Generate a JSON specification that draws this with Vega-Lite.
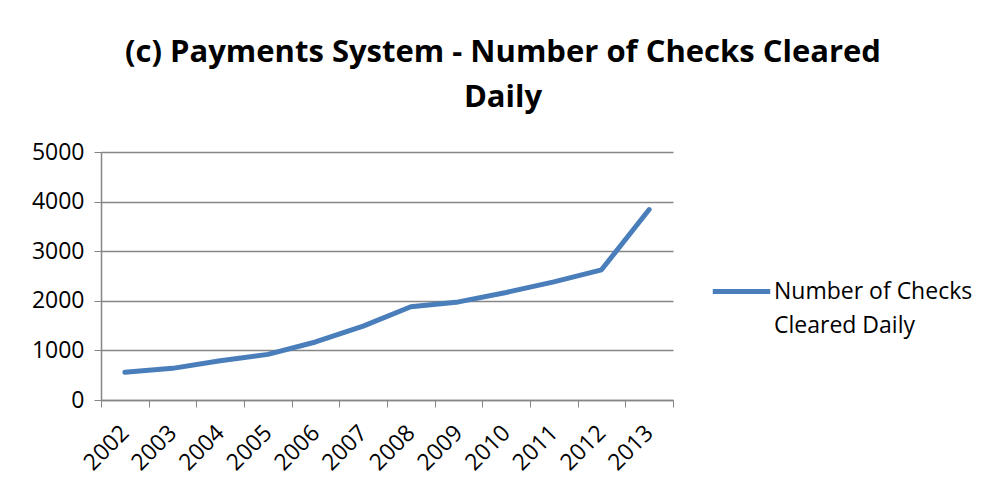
{
  "$schema": "https://vega.github.io/schema/vega-lite/v6.json",
  "width": 572,
  "height": 248,
  "autosize": {"type": "none"},
  "padding": {"left": 101, "top": 152, "right": 314, "bottom": 93},
  "background": "white",
  "title": {
    "text": ["(c) Payments System - Number of Checks Cleared", "Daily"],
    "font": "Open Sans",
    "fontSize": 31,
    "fontWeight": "bold",
    "color": "black",
    "anchor": "middle",
    "frame": "group",
    "dx": 116,
    "offset": 27,
    "lineHeight": 45
  },
  "data": {
    "values": [
      {"year": "2002", "value": 560, "series": "Number of Checks Cleared Daily"},
      {"year": "2003", "value": 638, "series": "Number of Checks Cleared Daily"},
      {"year": "2004", "value": 790, "series": "Number of Checks Cleared Daily"},
      {"year": "2005", "value": 920, "series": "Number of Checks Cleared Daily"},
      {"year": "2006", "value": 1170, "series": "Number of Checks Cleared Daily"},
      {"year": "2007", "value": 1490, "series": "Number of Checks Cleared Daily"},
      {"year": "2008", "value": 1880, "series": "Number of Checks Cleared Daily"},
      {"year": "2009", "value": 1978, "series": "Number of Checks Cleared Daily"},
      {"year": "2010", "value": 2168, "series": "Number of Checks Cleared Daily"},
      {"year": "2011", "value": 2382, "series": "Number of Checks Cleared Daily"},
      {"year": "2012", "value": 2625, "series": "Number of Checks Cleared Daily"},
      {"year": "2013", "value": 3840, "series": "Number of Checks Cleared Daily"}
    ]
  },
  "mark": {"type": "line", "strokeWidth": 5, "strokeCap": "round", "strokeJoin": "round"},
  "encoding": {
    "x": {
      "field": "year",
      "type": "ordinal",
      "bandPosition": 0.5,
      "scale": {"type": "band", "paddingInner": 0, "paddingOuter": 0},
      "axis": {
        "title": null,
        "labelAngle": -45,
        "labelAlign": "right",
        "labelBaseline": "middle",
        "labelFont": "Open Sans",
        "labelFontSize": 23,
        "labelColor": "black",
        "labelPadding": 22,
        "labelDx": 5,
        "tickBand": "extent",
        "tickColor": "#868686",
        "tickSize": 7,
        "domainColor": "#868686",
        "domainWidth": 1.5,
        "grid": false
      }
    },
    "y": {
      "field": "value",
      "type": "quantitative",
      "scale": {"domain": [0, 5000]},
      "axis": {
        "title": null,
        "values": [0, 1000, 2000, 3000, 4000, 5000],
        "format": "d",
        "labelFont": "Open Sans",
        "labelFontSize": 23,
        "labelColor": "black",
        "labelPadding": 10,
        "tickColor": "#868686",
        "tickSize": 7,
        "domainColor": "#868686",
        "domainWidth": 1.5,
        "gridColor": "#868686",
        "gridWidth": 1.5
      }
    },
    "color": {
      "field": "series",
      "type": "nominal",
      "scale": {"range": ["#4a7ebb"]},
      "legend": {
        "title": null,
        "orient": "none",
        "legendX": 609,
        "legendY": 108,
        "symbolType": "stroke",
        "symbolSize": 3300,
        "symbolStrokeWidth": 5,
        "labelFont": "Open Sans",
        "labelFontSize": 23,
        "labelColor": "black",
        "labelOffset": 1,
        "labelLimit": 300,
        "labelExpr": "['Number of Checks', 'Cleared Daily']"
      }
    }
  },
  "config": {
    "view": {"stroke": null},
    "style": {"guide-label": {"lineHeight": 34}}
  }
}
